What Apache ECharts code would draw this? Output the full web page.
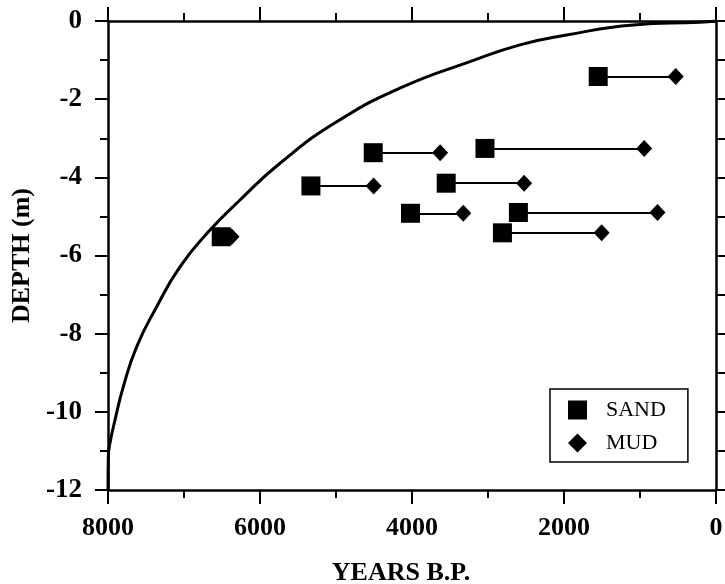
<!DOCTYPE html>
<html>
<head>
<meta charset="utf-8">
<script src="https://cdn.jsdelivr.net/npm/echarts@6/dist/echarts.min.js"></script>
<style>
  html, body { margin: 0; padding: 0; background: #fff; }
  #main { width: 725px; height: 584px; }
</style>
</head>
<body>
<div id="main"></div>
<script>
// sample pairs: sand age, mud age, depth (m)
const sandAge = [1550, 3040, 4510, 5330, 3550, 4020, 2600, 2810, 6510];
const mudAge  = [530, 945, 3630, 4505, 2525, 3325, 770, 1505, 6375];
const depth   = [-1.42, -3.26, -3.37, -4.22, -4.15, -4.92, -4.9, -5.42, -5.52];

// curve
const curveAge   = [8000, 7996, 7974, 7908, 7799, 7622, 7359, 7053, 6658, 6263, 5737, 4991, 4114, 3237, 2579, 1964, 1088, 210, 0];
const curveDepth = [-12, -11.15, -10.8, -10.21, -9.36, -8.33, -7.31, -6.29, -5.35, -4.58, -3.64, -2.58, -1.68, -1.04, -0.61, -0.36, -0.1, -0.03, 0];

const xTicks = [0, 2000, 4000, 6000, 8000];
const yTicks = [-12, -10, -8, -6, -4, -2, 0];

const font = 'Liberation Serif';
const black = '#000';

let sand = sandAge.map((a, i) => [a, depth[i]]);
let mud = mudAge.map((a, i) => [a, depth[i]]);
let links = sandAge.map((a, i) => ({coords: [[a, depth[i]], [mudAge[i], depth[i]]]}));
let curve = curveAge.map((a, i) => [a, curveDepth[i]]);

let myChart = echarts.init(document.getElementById('main'));
myChart.setOption({
  animation: false,
  grid: {left: 108, right: 9, top: 21, bottom: 94, containLabel: false, outerBoundsMode: 'none'},
  legend: {
    left: 550, top: 389,
    orient: 'vertical',
    data: ['SAND', 'MUD'],
    backgroundColor: '#fff',
    borderColor: black,
    borderWidth: 1.5,
    borderRadius: 0,
    padding: [10, 22, 8, 18],
    itemGap: 11,
    itemWidth: 19,
    itemHeight: 19,
    textStyle: {fontFamily: font, fontSize: 22, color: black, lineHeight: 19, padding: [0, 0, 0, 14]}
  },
  xAxis: [{
    type: 'value', min: 0, max: 8000, interval: 2000, inverse: true, position: 'bottom',
    name: 'YEARS B.P.', nameLocation: 'middle', nameGap: 70,
    nameTextStyle: {fontFamily: font, fontSize: 26, fontWeight: 'bold', color: black, padding: [0, 22, 0, 0]},
    axisLine: {show: true, onZero: false, lineStyle: {color: black, width: 2.5}},
    axisTick: {show: true, length: 14, lineStyle: {color: black, width: 2}},
    minorTick: {show: true, splitNumber: 2, length: 8, lineStyle: {color: black, width: 2}},
    axisLabel: {margin: 25, fontFamily: font, fontSize: 26, fontWeight: 'bold', color: black,
      formatter: v => xTicks.includes(v) ? String(v) : ''},
    splitLine: {show: false}
  }, {
    type: 'value', min: 0, max: 8000, interval: 2000, inverse: true, position: 'top',
    axisLine: {show: true, onZero: false, lineStyle: {color: black, width: 2.5}},
    axisTick: {show: true, length: 14, lineStyle: {color: black, width: 2}},
    minorTick: {show: true, splitNumber: 2, length: 8, lineStyle: {color: black, width: 2}},
    axisLabel: {show: false},
    splitLine: {show: false}
  }],
  yAxis: [{
    type: 'value', min: -12, max: 0, interval: 2, position: 'left',
    name: 'DEPTH (m)', nameLocation: 'middle', nameGap: 69,
    nameTextStyle: {fontFamily: font, fontSize: 26, fontWeight: 'bold', color: black},
    axisLine: {show: true, onZero: false, lineStyle: {color: black, width: 2.5}},
    axisTick: {show: true, length: 13, lineStyle: {color: black, width: 2}},
    minorTick: {show: true, splitNumber: 2, length: 8, lineStyle: {color: black, width: 2}},
    axisLabel: {margin: 26, fontFamily: font, fontSize: 27, fontWeight: 'bold', color: black,
      formatter: v => yTicks.includes(v) ? String(v) : ''},
    splitLine: {show: false}
  }, {
    type: 'value', min: -12, max: 0, interval: 1, position: 'right',
    axisLine: {show: true, onZero: false, lineStyle: {color: black, width: 2.5}},
    axisTick: {show: true, length: 9, lineStyle: {color: black, width: 2}},
    axisLabel: {show: false},
    splitLine: {show: false}
  }],
  series: [{
    name: 'curve',
    type: 'line',
    data: curve,
    smooth: 0.5,
    showSymbol: false,
    lineStyle: {color: black, width: 3},
    z: 2
  }, {
    name: 'links',
    type: 'lines',
    coordinateSystem: 'cartesian2d',
    data: links,
    lineStyle: {color: black, width: 2, opacity: 1},
    z: 3
  }, {
    name: 'SAND',
    type: 'scatter',
    data: sand,
    symbol: 'rect',
    symbolSize: 19,
    itemStyle: {color: black, opacity: 1},
    z: 5
  }, {
    name: 'MUD',
    type: 'scatter',
    data: mud,
    symbol: 'diamond',
    symbolSize: [16, 17],
    itemStyle: {color: black, opacity: 1},
    z: 4
  }]
});
</script>
</body>
</html>
